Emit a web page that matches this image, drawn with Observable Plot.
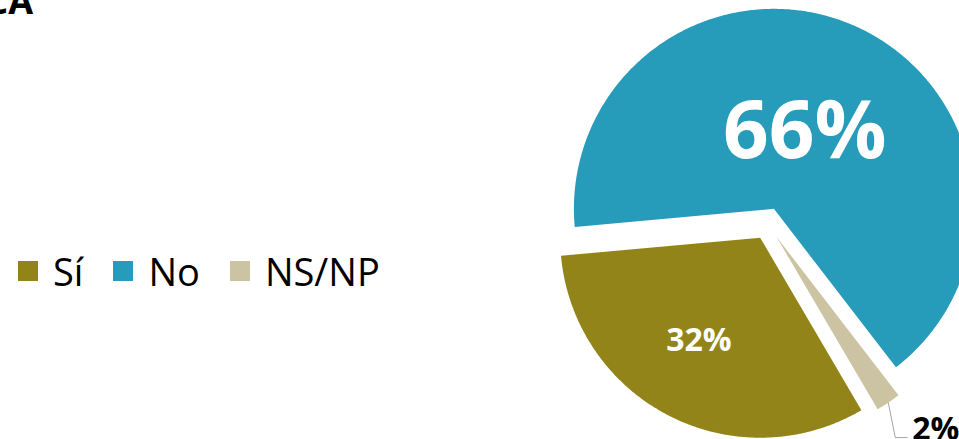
<!DOCTYPE html>
<html>
<head>
<meta charset="utf-8">
<script src="https://cdn.jsdelivr.net/npm/d3@7"></script>
<script src="https://cdn.jsdelivr.net/npm/@observablehq/plot@0.6"></script>
<style>
html, body { margin: 0; padding: 0; background: #fff; }
#wrap { position: relative; width: 959px; height: 439px; overflow: hidden; font-family: "Open Sans", sans-serif; }
#title { position: absolute; left: -300px; width: 333px; top: -17px; text-align: right; font: 700 36px/36px "Open Sans", sans-serif; color: #000; white-space: nowrap; }
#legend { position: absolute; left: 18px; top: 251px; }
#legend .lg-swatches { font-family: "Open Sans", sans-serif !important; font-size: 38px !important; line-height: 40px; color: #000; margin: 0 !important; }
#legend .lg-swatch { margin-right: 30px !important; }
#legend .lg-swatch > svg { margin-right: 15px !important; }
#chart svg { display: block; }
</style>
</head>
<body>
<div id="wrap">
  <div id="chart"></div>
  <div id="title">CA</div>
  <div id="legend"></div>
</div>
<script>
// ---- data ----
const categories = ["Sí", "No", "NS/NP"];
const values = [32, 66, 2];
const valueLabels = ["32%", "66%", "2%"];
const colors = ["#938419", "#269bba", "#ccc3a2"];

// ---- layout constants ----
const START_DEG = 149.6;     // first slice start angle (clockwise from 12 o'clock)
const EXPLODE = 0.08;        // slice explosion, fraction of radius
const insideLabelRadius = {"Sí": 0.6, "No": 0.41};
const insideLabelTurn = {"Sí": 3.5, "No": -1.5}; // degrees
const insideLabelSize = {"Sí": 32, "No": 80};
const calloutElbow = [0.035, -0.175];
const calloutRun = 0.06;

const rows = categories.map((c, i) => ({name: c, value: values[i], label: valueLabels[i]}));
const deg = Math.PI / 180;
const pie = d3.pie().sort(null).value(d => d.value)
  .startAngle(START_DEG * deg).endAngle(START_DEG * deg + 2 * Math.PI);
const arcs = pie(rows);

const slicePts = [];
const geom = arcs.map(a => {
  const name = a.data.name;
  const mid = (a.startAngle + a.endAngle) / 2;
  const ox = EXPLODE * Math.sin(mid), oy = EXPLODE * Math.cos(mid);
  slicePts.push({name, x: ox, y: oy});
  const n = Math.max(2, Math.ceil((a.endAngle - a.startAngle) / (0.5 * deg)));
  for (let i = 0; i <= n; i++) {
    const t = a.startAngle + (a.endAngle - a.startAngle) * i / n;
    slicePts.push({name, x: ox + Math.sin(t), y: oy + Math.cos(t)});
  }
  slicePts.push({name, x: ox, y: oy});
  return {name, label: a.data.label, mid, ox, oy};
});

const inside = geom.filter(g => g.name in insideLabelRadius).map(g => {
  const ang = g.mid + insideLabelTurn[g.name] * deg;
  return {
    ...g,
    x: g.ox + insideLabelRadius[g.name] * Math.sin(ang),
    y: g.oy + insideLabelRadius[g.name] * Math.cos(ang)
  };
});
const outside = geom.filter(g => !(g.name in insideLabelRadius));
const leader = outside.flatMap(g => {
  const x0 = g.ox + Math.sin(g.mid), y0 = g.oy + Math.cos(g.mid);
  const x1 = x0 + calloutElbow[0], y1 = y0 + calloutElbow[1];
  return [
    {name: g.name, x: x0, y: y0},
    {name: g.name, x: x1, y: y1},
    {name: g.name, x: x1 + calloutRun, y: y1}
  ];
});
const outsideText = outside.map(g => {
  const last = leader.filter(p => p.name === g.name).slice(-1)[0];
  return {label: g.label, x: last.x, y: last.y};
});

const colorScale = {type: "ordinal", domain: categories, range: colors};

const plot = Plot.plot({
  width: 959,
  height: 439,
  margin: 0,
  x: {domain: [-3.835, 0.96], axis: null},
  y: {domain: [-1.08, 1.115], axis: null},
  color: colorScale,
  style: {fontFamily: "Open Sans, sans-serif", background: "#fff"},
  marks: [
    Plot.line(slicePts, {x: "x", y: "y", z: "name", fill: "name", stroke: "none", curve: "linear"}),
    Plot.line(leader, {x: "x", y: "y", z: "name", stroke: "#a6a6a6", strokeWidth: 1}),
    Plot.text(inside.filter(d => d.name === "No"), {x: "x", y: "y", text: "label", fill: "white", fontWeight: 700, fontSize: insideLabelSize["No"]}),
    Plot.text(inside.filter(d => d.name === "Sí"), {x: "x", y: "y", text: "label", fill: "white", fontWeight: 700, fontSize: insideLabelSize["Sí"]}),
    Plot.text(outsideText, {x: "x", y: "y", text: "label", fill: "black", fontWeight: 700, fontSize: 32, textAnchor: "start", dx: 5, dy: -8})
  ]
});
document.getElementById("chart").appendChild(plot);

const legend = Plot.legend({
  color: colorScale,
  legend: "swatches",
  swatchSize: 20,
  className: "lg"
});
document.getElementById("legend").appendChild(legend);
</script>
</body>
</html>
